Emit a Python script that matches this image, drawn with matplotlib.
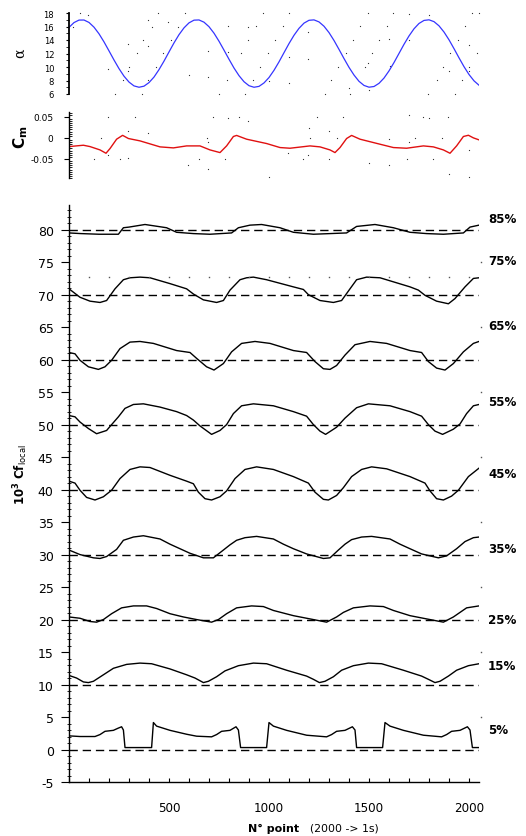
import numpy as np
import matplotlib
matplotlib.use("Agg")
import matplotlib.pyplot as plt
from matplotlib.ticker import MultipleLocator, FixedLocator

# ---------------------------------------------------------------- data
# sample index (2000 samples -> 1 s)
alpha_x = list(range(0, 2051, 25))
alpha_deg = [15.87, 16.58, 16.95, 16.96, 16.60, 15.90, 14.92, 13.72, 12.39, 11.04,
             9.76, 8.64, 7.77, 7.20, 7.00, 7.16, 7.69, 8.51, 9.61, 10.87,
             12.23, 13.57, 14.79, 15.80, 16.54, 16.94, 16.97, 16.64, 15.97, 15.01,
             13.82, 12.50, 11.15, 9.85, 8.72, 7.82, 7.23, 7.00, 7.13, 7.64,
             8.44, 9.51, 10.76, 12.12, 13.47, 14.70, 15.73, 16.50, 16.92, 16.98,
             16.68, 16.04, 15.10, 13.93, 12.61, 11.25, 9.95, 8.81, 7.88, 7.27,
             7.01, 7.11, 7.58, 8.36, 9.42, 10.66, 12.01, 13.36, 14.60, 15.66,
             16.45, 16.90, 16.99, 16.72, 16.10, 15.18, 14.03, 12.72, 11.36, 10.05,
             8.89, 7.95, 7.30]

# stray acquisition samples in the incidence record
alpha_stray_x = [55, 97, 22, 297, 338, 397, 413, 372, 397, 447, 497, 508, 472, 435,
                 397, 363, 230, 197, 268, 297, 302, 543, 580, 600, 697, 697, 752,
                 788, 797, 797, 860, 880, 897, 897, 935, 922, 955, 972, 993, 1002,
                 1030, 1068, 1100, 1100, 1100, 1197, 1197, 1280, 1310, 1347, 1383,
                 1400, 1405, 1422, 1455, 1480, 1497, 1493, 1500, 1513, 1550, 1588,
                 1602, 1605, 1622, 1700, 1700, 1800, 1797, 1838, 1872, 1900, 1905,
                 1930, 1943, 1963, 1980, 2002, 2002, 2002, 2013, 2038, 2050]
alpha_stray_v = [18.0, 17.75, 15.97, 13.41, 12.07, 17.01, 15.97, 14.0, 13.06, 18.0,
                 16.72, 14.0, 12.07, 10.05, 8.07, 6.0, 6.0, 9.70, 8.07, 9.46, 10.05,
                 15.97, 18.0, 8.81, 12.42, 8.47, 6.0, 8.07, 16.12, 12.17, 12.07, 6.0,
                 15.88, 14.0, 16.02, 8.07, 10.05, 18.0, 12.07, 7.98, 14.0, 16.02,
                 18.0, 11.43, 7.58, 15.14, 11.19, 6.0, 8.07, 10.05, 12.07, 6.84, 6.0,
                 14.0, 16.02, 10.05, 10.59, 18.0, 6.64, 12.07, 14.0, 16.02, 14.15,
                 10.2, 18.0, 17.85, 14.0, 17.7, 6.0, 8.07, 10.05, 9.46, 12.07, 6.0,
                 14.0, 8.07, 16.02, 13.26, 10.05, 9.46, 18.0, 12.07, 18.0]

cm_x = [0, 72, 105, 155, 185, 205, 238, 268, 297, 355, 455, 522, 588, 655, 705,
        755, 788, 822, 838, 888, 988, 1055, 1105, 1205, 1255, 1305, 1330, 1355,
        1388, 1413, 1455, 1555, 1622, 1688, 1772, 1822, 1872, 1905, 1938, 1972,
        1997, 2022, 2050]
cm_val = [-0.0206, -0.0174, -0.0206, -0.0285, -0.0364, -0.0253, -0.0031, 0.0060,
          -0.0015, -0.0071, -0.0213, -0.0237, -0.0190, -0.0190, -0.0285, -0.0348,
          -0.0190, 0.0033, 0.0058, -0.0031, -0.0134, -0.0229, -0.0245, -0.0190,
          -0.0213, -0.0285, -0.0348, -0.0229, -0.0015, 0.0058, -0.0031, -0.0150,
          -0.0229, -0.0245, -0.0190, -0.0213, -0.0285, -0.0364, -0.0190, 0.0033,
          0.0062, 0.0000, -0.0047]

# stray acquisition samples in the moment record
cm_stray_x = [197, 330, 297, 397, 160, 125, 197, 255, 297, 597, 650, 697, 688, 697,
              722, 797, 852, 897, 780, 1002, 1097, 1172, 1197, 1202, 1205, 1242,
              1302, 1302, 1338, 1372, 1502, 1602, 1602, 1692, 1702, 1702, 1730,
              1768, 1802, 1822, 1863, 1897, 1902, 2002, 2002]
cm_stray_v = [0.0501, 0.0501, 0.0152, 0.0104, 0.0, -0.0491, -0.0412, -0.0491,
              -0.0475, -0.065, -0.0491, -0.0729, 0.0, -0.0094, 0.0501, 0.0469,
              0.0501, 0.0398, -0.0491, -0.092, -0.0348, -0.0491, -0.0412, 0.0223,
              0.0, 0.0501, 0.0152, -0.0491, 0.0, 0.0501, -0.0586, -0.0031, -0.065,
              -0.0491, -0.0094, 0.054, 0.0, 0.0501, 0.0477, -0.0491, 0.0, 0.0501,
              -0.0848, -0.0285, -0.092]

# local skin friction, 10^3 Cf, offset by 10 per chord station
cf85_x = [0, 60, 150, 247, 272, 300, 380, 488, 538, 622, 705, 813, 847, 905, 963,
          1055, 1122, 1222, 1388, 1438, 1530, 1622, 1705, 1788, 1872, 1972, 2005, 2050]
cf85_y = [79.5, 79.4, 79.3, 79.3, 80.3, 80.4, 80.8, 80.3, 79.6, 79.4, 79.3, 79.5,
          80.3, 80.7, 80.8, 80.3, 79.6, 79.3, 79.5, 80.5, 80.8, 80.3, 79.6, 79.4,
          79.3, 79.5, 80.4, 80.7]

cf75_x = [0, 55, 105, 155, 188, 230, 272, 305, 355, 405, 505, 588, 622, 672, 738,
          772, 805, 855, 888, 922, 988, 1122, 1172, 1197, 1255, 1322, 1363, 1405,
          1438, 1488, 1555, 1705, 1747, 1780, 1838, 1897, 1930, 1980, 2022, 2050]
cf75_y = [70.9, 69.6, 69.0, 68.8, 69.1, 70.9, 72.3, 72.6, 72.7, 72.6, 71.7, 70.9,
          70.1, 69.2, 68.8, 69.1, 70.7, 72.3, 72.6, 72.7, 72.3, 71.2, 70.8, 70.0,
          69.1, 68.8, 69.1, 70.9, 72.3, 72.7, 72.6, 71.2, 70.7, 69.9, 69.0, 68.6,
          69.4, 71.2, 72.5, 72.6]

cf65_x = [0, 30, 55, 97, 147, 180, 213, 255, 305, 355, 422, 538, 605, 638, 688,
          725, 772, 813, 863, 930, 1005, 1122, 1188, 1230, 1272, 1305, 1338, 1380,
          1430, 1505, 1588, 1705, 1763, 1797, 1838, 1880, 1922, 1972, 2022, 2050]
cf65_y = [61.1, 60.9, 59.9, 58.9, 58.5, 58.9, 59.9, 61.7, 62.7, 62.8, 62.5, 61.4,
          61.1, 60.2, 58.9, 58.4, 59.4, 61.2, 62.5, 62.8, 62.5, 61.4, 61.1, 59.7,
          58.6, 58.5, 59.1, 60.7, 62.3, 62.8, 62.5, 61.4, 61.1, 59.7, 58.7, 58.4,
          59.4, 61.2, 62.5, 62.8]

cf55_x = [0, 30, 55, 97, 138, 188, 213, 247, 280, 322, 372, 455, 538, 588, 622,
          655, 713, 755, 788, 822, 863, 922, 1022, 1122, 1188, 1222, 1255, 1283,
          1338, 1380, 1438, 1497, 1605, 1705, 1763, 1797, 1830, 1868, 1922, 1955,
          1988, 2022, 2050]
cf55_y = [51.4, 51.2, 50.4, 49.4, 48.6, 49.1, 50.0, 51.2, 52.5, 53.1, 53.2, 52.7,
          52.0, 51.4, 50.7, 49.8, 48.5, 49.1, 50.0, 51.7, 52.9, 53.2, 52.9, 52.0,
          51.3, 50.0, 49.0, 48.5, 49.6, 51.0, 52.6, 53.2, 52.9, 52.0, 51.3, 50.0,
          49.0, 48.5, 49.3, 50.1, 51.7, 52.9, 53.1]

cf45_x = [0, 30, 55, 88, 130, 172, 213, 255, 305, 355, 405, 505, 588, 622, 647,
          680, 713, 755, 788, 830, 880, 938, 1022, 1122, 1197, 1230, 1272, 1297,
          1338, 1372, 1413, 1463, 1513, 1588, 1705, 1780, 1805, 1838, 1872, 1913,
          1947, 1997, 2050]
cf45_y = [41.3, 41.0, 39.9, 38.8, 38.4, 38.9, 39.9, 41.7, 43.1, 43.5, 43.4, 42.2,
          41.3, 40.9, 39.6, 38.6, 38.4, 38.9, 39.8, 41.7, 43.1, 43.5, 43.1, 42.0,
          41.0, 39.6, 38.5, 38.4, 39.1, 40.3, 42.0, 43.1, 43.5, 43.2, 42.0, 41.0,
          39.8, 38.6, 38.4, 39.0, 39.9, 42.0, 43.3]

cf35_x = [0, 55, 122, 155, 188, 238, 272, 322, 372, 455, 505, 555, 605, 672, 722,
          772, 805, 838, 880, 938, 1022, 1072, 1122, 1188, 1272, 1305, 1347, 1380,
          1413, 1463, 1513, 1605, 1655, 1705, 1763, 1847, 1888, 1938, 1980, 2022, 2050]
cf35_y = [30.7, 30.0, 29.5, 29.4, 29.7, 30.8, 32.2, 32.7, 32.9, 32.4, 31.6, 30.9,
          30.2, 29.5, 29.5, 30.7, 31.5, 32.2, 32.6, 32.8, 32.4, 31.6, 30.9, 30.1,
          29.4, 29.5, 30.7, 31.6, 32.3, 32.7, 32.8, 32.4, 31.6, 30.9, 30.1, 29.5,
          29.8, 30.9, 32.0, 32.6, 32.7]

cf25_x = [0, 55, 105, 138, 172, 213, 263, 322, 388, 438, 505, 572, 638, 713, 747,
          788, 838, 913, 972, 1022, 1122, 1205, 1288, 1338, 1372, 1422, 1505, 1572,
          1622, 1705, 1788, 1872, 1922, 1988, 2050]
cf25_y = [20.4, 20.2, 19.7, 19.6, 20.0, 20.9, 21.8, 22.1, 22.1, 21.7, 20.9, 20.4,
          20.0, 19.6, 20.0, 20.9, 21.8, 22.1, 22.0, 21.4, 20.6, 20.1, 19.6, 20.4,
          21.1, 21.8, 22.1, 22.0, 21.4, 20.6, 20.1, 19.6, 20.4, 21.8, 22.1]

cf15_x = [0, 38, 72, 97, 122, 172, 222, 288, 355, 413, 505, 588, 630, 672, 697,
          738, 780, 847, 922, 988, 1088, 1188, 1222, 1252, 1280, 1322, 1363, 1422,
          1497, 1563, 1672, 1763, 1797, 1830, 1855, 1897, 1938, 1997, 2050]
cf15_y = [11.4, 11.0, 10.4, 10.3, 10.5, 11.5, 12.5, 13.1, 13.3, 13.2, 12.4, 11.5,
          11.0, 10.3, 10.5, 11.2, 12.1, 12.9, 13.3, 13.2, 12.2, 11.3, 10.8, 10.3,
          10.5, 11.2, 12.2, 12.9, 13.3, 13.2, 12.2, 11.3, 10.8, 10.3, 10.5, 11.3,
          12.2, 12.9, 13.2]

cf05_x = [0, 55, 130, 155, 180, 222, 247, 263, 272, 280, 413, 422, 438, 505, 588,
          638, 713, 738, 763, 805, 835, 847, 858, 988, 1000, 1022, 1088, 1188, 1288,
          1313, 1338, 1380, 1417, 1430, 1438, 1568, 1580, 1605, 1672, 1772, 1863,
          1888, 1913, 1955, 1992, 2005, 2017, 2050]
cf05_y = [2.1, 2.0, 2.0, 2.3, 2.8, 2.95, 3.3, 3.5, 3.0, 0.3, 0.3, 4.15, 3.6, 2.95,
          2.35, 2.05, 1.95, 2.3, 2.8, 2.95, 3.5, 3.0, 0.3, 0.3, 4.15, 3.6, 2.95, 2.2,
          1.95, 2.3, 2.8, 2.95, 3.5, 3.0, 0.3, 0.3, 4.15, 3.6, 2.95, 2.2, 1.95, 2.3,
          2.8, 2.95, 3.5, 3.0, 0.3, 0.3]

stations = ["85%", "75%", "65%", "55%", "45%", "35%", "25%", "15%", "5%"]
baselines = [80, 70, 60, 50, 40, 30, 20, 10, 0]
curves = [(cf85_x, cf85_y), (cf75_x, cf75_y), (cf65_x, cf65_y), (cf55_x, cf55_y),
          (cf45_x, cf45_y), (cf35_x, cf35_y), (cf25_x, cf25_y), (cf15_x, cf15_y),
          (cf05_x, cf05_y)]
label_y = [81.7, 75.2, 65.2, 53.5, 42.5, 31.0, 20.0, 12.9, 3.1]

ref_dots_x = list(range(100, 2001, 100))
ref_dots_level = 72.7
edge_marks = [5, 15, 25, 35, 45, 55, 65, 75]

# ---------------------------------------------------------------- figure
W, H = 526, 837
plt.rcParams["font.family"] = ["DejaVu Sans"]
plt.rcParams["axes.unicode_minus"] = False
fig = plt.figure(figsize=(W / 100, H / 100), dpi=100)


def box(left, top, right, bottom):
    return [left / W, 1 - bottom / H, (right - left) / W, (bottom - top) / H]


ax_a = fig.add_axes(box(69, 14, 479, 95))
ax_c = fig.add_axes(box(69, 112.7, 479, 179))
ax_m = fig.add_axes(box(69, 206, 479, 783))

XMAX = 2050
SPECK = dict(ls="none", marker="s", ms=0.8, mew=0, color="#333333", clip_on=False)

# --- incidence
ax_a.plot(alpha_stray_x, alpha_stray_v, **SPECK)
ax_a.plot(alpha_x, alpha_deg, color="#3535ff", lw=0.9)
ax_a.set_xlim(0, XMAX)
ax_a.set_ylim(6, 18)
ax_a.yaxis.set_major_locator(MultipleLocator(2))
ax_a.yaxis.set_minor_locator(MultipleLocator(1))
ax_a.tick_params(axis="y", which="major", labelsize=6, length=2.2, width=0.8, pad=8.5)
ax_a.tick_params(axis="y", which="minor", length=2.2, width=0.6)
ax_a.set_xticks([])
for s in ("top", "right", "bottom"):
    ax_a.spines[s].set_visible(False)
ax_a.spines["left"].set_linewidth(1.3)
fig.text(20 / W, 1 - 53 / H, "α", rotation=90, ha="center", va="center",
         fontsize=10, family="DejaVu Serif")

# --- pitching moment
ax_c.plot(cm_stray_x, cm_stray_v, **SPECK)
ax_c.plot(cm_x, cm_val, color="#e01010", lw=1.0)
ax_c.set_xlim(0, XMAX)
ax_c.set_ylim(-0.095, 0.062)
ax_c.yaxis.set_major_locator(FixedLocator([-0.05, 0, 0.05]))
ax_c.yaxis.set_minor_locator(MultipleLocator(0.005))
ax_c.set_yticklabels(["-0.05", "0", "0.05"])
ax_c.tick_params(axis="y", which="major", labelsize=6.5, length=3.6, width=0.8, pad=7.5)
ax_c.tick_params(axis="y", which="minor", direction="in", length=2, width=0.6)
ax_c.set_xticks([])
for s in ("top", "right", "bottom"):
    ax_c.spines[s].set_visible(False)
ax_c.spines["left"].set_linewidth(1.0)
fig.text(21 / W, 1 - 137 / H, r"$\mathbf{C}_{\mathbf{m}}$", rotation=90,
         ha="center", va="center", fontsize=11)

# --- skin friction
for (cx, cy), base in zip(curves, baselines):
    ax_m.plot([0, XMAX], [base, base], color="black", lw=1.0,
              ls=(0, (6, 3.5)))
    ax_m.plot(cx, cy, color="black", lw=1.0)

ax_m.plot(ref_dots_x, [ref_dots_level] * len(ref_dots_x), ls="none", marker="s",
          ms=1.0, mew=0, color="#555555")
ax_m.plot([XMAX + 10] * len(edge_marks), edge_marks, ls="none", marker="s",
          ms=1.0, mew=0, color="#555555", clip_on=False)

for name, ly in zip(stations, label_y):
    ax_m.text(2095, ly, name, ha="left", va="center", fontsize=8.6,
              fontweight="bold", clip_on=False)

ax_m.set_xlim(0, XMAX)
ax_m.set_ylim(-5, 83.8)
ax_m.yaxis.set_major_locator(MultipleLocator(5))
ax_m.yaxis.set_minor_locator(MultipleLocator(1))
ax_m.xaxis.set_major_locator(FixedLocator([500, 1000, 1500, 2000]))
ax_m.xaxis.set_minor_locator(MultipleLocator(100))
ax_m.tick_params(axis="y", which="major", labelsize=9, length=5.5, width=0.8,
                 pad=5.5)
ax_m.tick_params(axis="y", which="minor", direction="inout", length=3.5, width=0.6)
ax_m.tick_params(axis="x", which="both", direction="in", length=3, width=0.8)
ax_m.tick_params(axis="x", which="major", labelsize=8.6, pad=14)
for s in ("top", "right"):
    ax_m.spines[s].set_visible(False)
ax_m.spines["left"].set_linewidth(1.0)
ax_m.spines["bottom"].set_linewidth(1.0)

fig.text(21 / W, 1 - 475 / H, r"$\mathbf{10^3\ Cf}_{\mathrm{local}}$", rotation=90,
         ha="center", va="center", fontsize=8.5)
fig.text(248 / W, 1 - 829 / H, "N° point", ha="left", va="center", fontsize=8,
         fontweight="bold")
fig.text(310 / W, 1 - 829 / H, "(2000 -> 1s)", ha="left", va="center", fontsize=7.8)

fig.savefig("out.png", dpi=100)
